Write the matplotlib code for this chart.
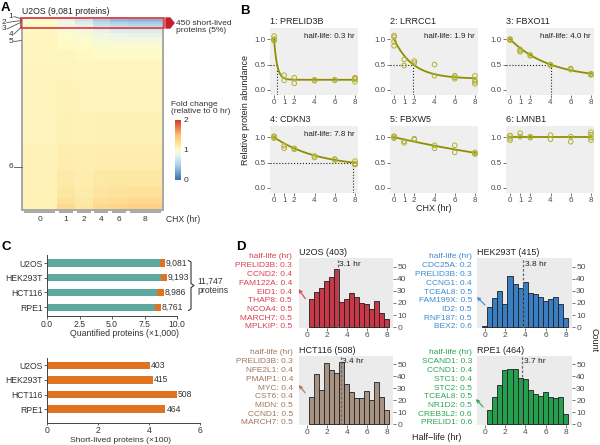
import numpy as np
import matplotlib
matplotlib.use('Agg')
import matplotlib.pyplot as plt
from matplotlib.colors import LinearSegmentedColormap
from matplotlib.patches import Polygon, Rectangle, FancyArrowPatch
from matplotlib.lines import Line2D

plt.rcParams['font.family'] = ['Liberation Sans', 'DejaVu Sans']
plt.rcParams['font.size'] = 6

# ---------------- data ----------------
# Panel A heatmap (U2OS), fold change per band of proteins x time group
hm_title = 'U2OS (9,081 proteins)'
hm_times = ['0', '1', '2', '4', '6', '8']
hm_reps = [4, 2, 2, 2, 2, 4]
hm_band_edges = [0, 60, 130, 200, 280, 360, 450, 560, 700, 900, 1150, 1500,
                 2000, 3000, 4500, 6000, 7200, 8000, 8500, 8800, 9081]
hm_band_values = [
    [1.00, 0.78, 0.60, 0.40, 0.32, 0.28],
    [1.00, 0.81, 0.66, 0.47, 0.39, 0.35],
    [1.01, 0.84, 0.71, 0.53, 0.46, 0.42],
    [1.01, 0.86, 0.75, 0.59, 0.52, 0.49],
    [1.02, 0.88, 0.79, 0.64, 0.58, 0.55],
    [1.02, 0.90, 0.82, 0.69, 0.64, 0.61],
    [1.03, 0.93, 0.86, 0.75, 0.70, 0.68],
    [1.03, 0.95, 0.90, 0.80, 0.76, 0.75],
    [1.04, 0.98, 0.94, 0.86, 0.83, 0.82],
    [1.04, 1.00, 0.97, 0.91, 0.89, 0.88],
    [1.05, 1.02, 1.00, 0.96, 0.94, 0.94],
    [1.05, 1.04, 1.03, 1.00, 0.99, 0.99],
    [1.06, 1.06, 1.05, 1.04, 1.04, 1.04],
    [1.07, 1.08, 1.07, 1.07, 1.07, 1.07],
    [1.07, 1.10, 1.09, 1.10, 1.10, 1.10],
    [1.08, 1.13, 1.11, 1.13, 1.14, 1.14],
    [1.08, 1.16, 1.13, 1.17, 1.18, 1.18],
    [1.09, 1.20, 1.15, 1.21, 1.23, 1.24],
    [1.09, 1.24, 1.17, 1.26, 1.28, 1.30],
    [1.10, 1.29, 1.20, 1.31, 1.34, 1.37],
]
hm_short_lived = 450
hm_row_labels = ['1', '2', '3', '4', '5', '6']

# Panel B
b_genes = ['1: PRELID3B', '2: LRRCC1', '3: FBXO11', '4: CDKN3', '5: FBXW5', '6: LMNB1']
b_x = [
    [0, 0, 0, 0, 1, 1, 2, 2, 4, 4, 6, 6, 8, 8, 8, 8],
    [0, 0, 0, 0, 1, 1, 2, 2, 4, 4, 6, 6, 6, 8, 8, 8, 8],
    [0, 0, 0, 0, 1, 1, 1, 2, 2, 4, 4, 6, 6, 8, 8, 8, 8],
    [0, 0, 0, 1, 1, 2, 2, 4, 4, 6, 6, 8, 8, 8, 8],
    [0, 0, 0, 1, 1, 2, 2, 4, 4, 6, 6, 8, 8, 8],
    [0, 0, 0, 0, 1, 1, 2, 2, 4, 4, 6, 6, 8, 8, 8, 8],
]
b_y = [
    [1.06, 0.99, 0.97, 1.00, 0.29, 0.19, 0.24, 0.13, 0.20, 0.18, 0.20, 0.19, 0.21, 0.23, 0.16, 0.24],
    [1.07, 1.04, 0.95, 0.87, 0.60, 0.48, 0.57, 0.53, 0.50, 0.28, 0.28, 0.25, 0.22, 0.28, 0.20, 0.16, 0.12],
    [1.00, 1.00, 0.99, 0.98, 0.80, 0.77, 0.75, 0.69, 0.67, 0.50, 0.48, 0.42, 0.40, 0.32, 0.31, 0.30, 0.30],
    [1.02, 0.98, 1.00, 0.83, 0.78, 0.78, 0.76, 0.63, 0.60, 0.57, 0.55, 0.53, 0.48, 0.46, 0.47],
    [1.02, 1.00, 0.98, 0.92, 0.89, 0.97, 0.95, 0.84, 0.78, 0.84, 0.70, 0.70, 0.68, 0.67],
    [1.03, 1.03, 0.98, 0.94, 1.08, 1.01, 1.01, 0.99, 1.04, 0.96, 1.01, 0.91, 1.10, 1.05, 0.99, 0.94],
]
b_fit_start = [1.0, 1.0, 1.0, 1.0, 1.0, 1.01]
b_fit_plateau = [0.20, 0.22, 0.22, 0.40, 0.0, 1.01]
b_fit_halflife = [0.3, 1.9, 4.0, 7.8, 15.0, None]
b_show_halflife = [True, True, True, True, False, False]
b_xticks = [0, 1, 2, 4, 6, 8]

# Panel C
c_lines = ['U2OS', 'HEK293T', 'HCT116', 'RPE1']
c_quantified = [9081, 9193, 8986, 8761]
c_short = [403, 415, 508, 464]
c_union = '11,747\nproteins'

# Panel D
d_titles = ['U2OS (403)', 'HEK293T (415)', 'HCT116 (508)', 'RPE1 (464)']
d_counts = [
    [23, 29, 32, 38, 41, 48, 21, 23, 28, 25, 20, 19, 15, 22, 12, 7],
    [1, 17, 24, 30, 19, 42, 36, 32, 37, 28, 27, 25, 22, 23, 25, 19, 8],
    [23, 42, 29, 51, 45, 43, 52, 34, 27, 22, 22, 28, 20, 35, 23, 12],
    [12, 23, 33, 45, 46, 46, 39, 38, 29, 25, 24, 27, 23, 22, 23, 9],
]
d_first_bin = [0.5, 0.0, 0.5, 0.5]
d_medians = [3.1, 3.8, 3.4, 3.7]
d_lists = [
    ['PRELID3B: 0.3', 'CCND2: 0.4', 'FAM122A: 0.4', 'EID1: 0.4', 'THAP8: 0.5', 'NCOA4: 0.5', 'MARCH7: 0.5', 'MPLKIP: 0.5'],
    ['CDC25A: 0.2', 'PRELID3B: 0.3', 'CCNG1: 0.4', 'TCEAL8: 0.5', 'FAM199X: 0.5', 'ID2: 0.5', 'RNF187: 0.5', 'BEX2: 0.6'],
    ['PRELID3B: 0.3', 'NFE2L1: 0.4', 'PMAIP1: 0.4', 'MYC: 0.4', 'CST6: 0.4', 'MIDN: 0.5', 'CCND1: 0.5', 'MARCH7: 0.5'],
    ['SCAND1: 0.3', 'CCND1: 0.4', 'STC1: 0.4', 'STC2: 0.5', 'TCEAL8: 0.5', 'NR1D2: 0.5', 'CREB3L2: 0.6', 'PRELID1: 0.6'],
]
d_bar_colors = ['#c73849', '#3a7fc3', '#a89383', '#24a04f']
d_text_colors = ['#d9404f', '#3d8ad0', '#a0765a', '#2aa653']

# ---------------- figure helpers ----------------
W, H = 600, 445
fig = plt.figure(figsize=(6, 4.45), dpi=100)


def axpx(l, t, r, b):
    return fig.add_axes([l / W, 1 - b / H, (r - l) / W, (b - t) / H])


def ftext(x, y, s, **kw):
    fig.text(x / W, 1 - y / H, s, **kw)


def fline(xs, ys, **kw):
    fig.add_artist(Line2D([x / W for x in xs], [1 - y / H for y in ys],
                          transform=fig.transFigure, **kw))


def farrow(x0, y0, x1, y1, color):
    fig.add_artist(FancyArrowPatch((x0 / W, 1 - y0 / H), (x1 / W, 1 - y1 / H),
                                   transform=fig.transFigure, arrowstyle='->',
                                   mutation_scale=5, color=color, lw=0.8))


panel_kw = dict(fontsize=9.5, fontweight='bold', va='center', ha='left')
ftext(1, 8, 'A', **panel_kw)
ftext(240, 11, 'B', **panel_kw)
ftext(1, 247, 'C', **panel_kw)
ftext(236, 247, 'D', **panel_kw)

# ---------------- Panel A ----------------
cmap = LinearSegmentedColormap.from_list(
    'fc', [(0.0, '#3d6cb2'), (0.25, '#a9d2e8'), (0.42, '#eef6ea'),
           (0.5, '#fffbc8'), (0.6, '#fde6a0'), (0.75, '#fdbf6e'),
           (1.0, '#d8352a')])
axA = axpx(22, 18, 163, 210)
C = np.repeat(np.array(hm_band_values), hm_reps, axis=1)
xe = np.arange(C.shape[1] + 1)
mesh = axA.pcolormesh(xe, hm_band_edges, C, cmap=cmap, vmin=0, vmax=2,
                      shading='flat', antialiased=False, edgecolors='face',
                      linewidth=0)
axA.set_xlim(0, C.shape[1])
axA.set_ylim(hm_band_edges[-1], 0)
axA.set_xticks([])
axA.set_yticks([])
for s in axA.spines.values():
    s.set_color('#a8a8a8')
    s.set_linewidth(1.4)
axA.add_patch(Rectangle((-0.1, 0), C.shape[1] + 0.2, hm_short_lived, fill=False,
                        edgecolor='#e3434f', lw=1.3, clip_on=False, zorder=5))
ftext(22, 12, hm_title, fontsize=6.3, va='center', color='#222')

# time group underline + labels
starts = np.concatenate([[0], np.cumsum(hm_reps)[:-1]])
tr = axA.get_xaxis_transform()
for st, n, lab in zip(starts, hm_reps, hm_times):
    axA.plot([st + 0.2, st + n - 0.2], [-0.012, -0.012], transform=tr,
             color='#a8a8a8', lw=1.4, clip_on=False, solid_capstyle='butt')
    axA.text(st + n / 2, -0.05, lab, transform=tr, ha='center', va='center',
             fontsize=6, color='#333')
ftext(166, 220, 'CHX (hr)', fontsize=6.2, va='center', color='#333')

# row labels with leader lines
row_lab_pos = [(11, 16.5, 21.5, 19), (4, 22.5, 21.5, 20.5), (4, 29, 21.5, 22),
               (11, 34, 21.5, 27), (11, 41.5, 21.5, 40.5), (11, 167, 21.5, 167)]
for lab, (tx, ty, lx, ly) in zip(hm_row_labels, row_lab_pos):
    ftext(tx, ty, lab, fontsize=6, ha='center', va='center', color='#333')
    fline([tx + 3, lx], [ty, ly], color='#555', lw=0.6)

# marker + text for short-lived
fig.add_artist(Polygon([(166 / W, 1 - 18 / H), (170 / W, 1 - 18 / H), (174 / W, 1 - 23 / H),
                        (170 / W, 1 - 28 / H), (166 / W, 1 - 28 / H)], closed=True,
                       transform=fig.transFigure, color='#c62030'))
ftext(176, 27, '450 short-lived\nproteins (5%)', fontsize=6, va='center',
      ha='left', color='#333', linespacing=1.05)

# colorbar
cax = axpx(175, 120, 181, 180)
cb = fig.colorbar(mesh, cax=cax, ticks=[0, 1, 2])
cb.outline.set_visible(False)
cb.ax.tick_params(length=0, labelsize=6, pad=2, labelcolor='#333')
ftext(171, 108, 'Fold change\n(relative to 0 hr)', fontsize=6, va='center',
      ha='left', color='#333', linespacing=1.05)

# ---------------- Panel B ----------------
b_cols = [270, 390, 506]
b_rows = [(28, 95), (126, 193)]
tt = np.linspace(0, 8, 200)
for i in range(6):
    r, c = divmod(i, 3)
    ax = axpx(b_cols[c], b_rows[r][0], b_cols[c] + 88, b_rows[r][1])
    ax.set_facecolor('#efefef')
    for s in ax.spines.values():
        s.set_visible(False)
    ax.set_xlim(-0.4, 8.3)
    ax.set_ylim(-0.1, 1.22)
    ax.set_xticks(b_xticks)
    ax.set_yticks([0, 0.5, 1.0])
    ax.set_yticklabels(['0.0', '0.5', '1.0'])
    ax.tick_params(length=2, width=0.5, color='#444', labelsize=5.8,
                   labelcolor='#4d4d4d', pad=1)
    a0, p, th = b_fit_start[i], b_fit_plateau[i], b_fit_halflife[i]
    if th is None:
        yy = np.full_like(tt, a0)
    else:
        k = np.log((a0 - p) / (0.5 - p)) / th
        yy = p + (a0 - p) * np.exp(-k * tt)
    if b_show_halflife[i]:
        ax.plot([-0.4, th], [0.5, 0.5], ls=':', color='#222', lw=0.8, zorder=1)
        ax.plot([th, th], [-0.1, 0.5], ls=':', color='#222', lw=0.8, zorder=1)
        ax.text(0.96, 0.93, f'half-life: {th} hr', transform=ax.transAxes,
                ha='right', va='top', fontsize=5.8, color='#222')
    ax.plot(tt, yy, color='#8e8e00', lw=1.3, zorder=2)
    ax.scatter(b_x[i], b_y[i], s=11, facecolors='none', edgecolors='#b0b035',
               linewidths=0.7, zorder=3)
    ax.text(0.0, 1.03, b_genes[i], transform=ax.transAxes, ha='left',
            va='bottom', fontsize=6.5, color='#222')
ftext(246, 110, 'Relative protein abundance', rotation=90, fontsize=6.5,
      ha='center', va='center', color='#222')
ftext(434, 208, 'CHX (hr)', fontsize=6.5, ha='center', va='center', color='#222')

# ---------------- Panel C ----------------
teal, orange = '#5ea8a0', '#e0731f'
axC1 = axpx(47, 255, 177, 316)
yy = np.arange(len(c_lines))
q = np.array(c_quantified) / 1000
s_ = np.array(c_short) / 1000
axC1.barh(yy, q - s_, height=0.5, color=teal)
axC1.barh(yy, s_, left=q - s_, height=0.5, color=orange)
for yi, qi, qv in zip(yy, q, c_quantified):
    axC1.text(qi + 0.05, yi, f'{qv:,}', va='center', ha='left', fontsize=6.2,
              color='#333', clip_on=False)
axC1.set_ylim(3.6, -0.55)
axC1.set_xlim(0, 10)
axC1.set_xticks([0, 2.5, 5, 7.5, 10])
axC1.set_xticklabels(['0.0', '2.5', '5.0', '7.5', '10.0'])
axC1.set_yticks(yy)
axC1.set_yticklabels(c_lines)
ftext(124, 333, 'Quantified proteins (×1,000)', fontsize=6.3, ha='center',
      va='center', color='#333')

axC2 = axpx(47, 358, 200, 423)
axC2.barh(yy, np.array(c_short) / 100, height=0.5, color=orange)
for yi, sv in zip(yy, c_short):
    axC2.text(sv / 100 + 0.04, yi, f'{sv}', va='center', ha='left', fontsize=6.2,
              color='#333')
axC2.set_ylim(3.95, -0.5)
axC2.set_xlim(0, 6)
axC2.set_xticks([0, 2, 4, 6])
axC2.set_yticks(yy)
axC2.set_yticklabels(c_lines)
ftext(121, 440.5, 'Short-lived proteins (×100)', fontsize=6.1, ha='center',
      va='center', color='#333')
for ax in (axC1, axC2):
    for sp in ('top', 'right'):
        ax.spines[sp].set_visible(False)
    for sp in ('left', 'bottom'):
        ax.spines[sp].set_color('#444')
        ax.spines[sp].set_linewidth(0.7)
    ax.tick_params(length=2, width=0.6, color='#444', labelsize=6.2,
                   labelcolor='#333', pad=1)
axC2.tick_params(axis='x', length=1.5, pad=0.5)
# bracket
fline([188.5, 191, 191, 194, 191, 191, 188.5],
      [260.5, 262, 283.5, 285.5, 287.5, 309, 310.5], color='#333', lw=0.8)
ftext(197, 286, c_union, fontsize=6.2, va='center', ha='left', color='#333',
      linespacing=1.05)

# ---------------- Panel D ----------------
d_boxes = [(299, 258, 393, 328), (477, 258, 572, 328),
           (299, 356, 393, 425), (477, 356, 572, 425)]
d_text_right = [292, 472, 293, 472]
d_text_top = [257, 257, 353, 353]
d_arrows = [(307, 301, 297, 287), (487, 307, 475, 295),
            (307, 395, 297, 383), (485, 409, 474, 397)]
for i in range(4):
    l, t, r, b = d_boxes[i]
    ax = axpx(l, t, r, b)
    ax.set_facecolor('#ebebeb')
    for s in ax.spines.values():
        s.set_visible(False)
    n = len(d_counts[i])
    centers = d_first_bin[i] + 0.5 * np.arange(n)
    ax.bar(centers, d_counts[i], width=0.5, color=d_bar_colors[i],
           edgecolor='#1e1e1e', linewidth=0.6, zorder=2)
    ax.axvline(d_medians[i], color='#666', ls=(0, (2, 1.5)), lw=0.9, zorder=3)
    ax.text(d_medians[i] + 0.15, 52, f'{d_medians[i]} hr', fontsize=6,
            va='center', ha='left', color='#222', zorder=4)
    ax.set_xlim(-0.75, 8.6)
    ax.set_ylim(-0.6, 57)
    ax.set_xticks([0, 2, 4, 6, 8])
    ax.set_yticks([0, 10, 20, 30, 40, 50])
    ax.yaxis.tick_right()
    ax.tick_params(length=2, width=0.5, color='#444', labelsize=6,
                   labelcolor='#4d4d4d', pad=1)
    ax.text(0.0, 1.02, d_titles[i], transform=ax.transAxes, ha='left',
            va='bottom', fontsize=6.5, color='#222')
    step = 8.75
    ftext(d_text_right[i], d_text_top[i], 'half-life (hr)', fontsize=6,
          ha='right', va='center', color=d_text_colors[i])
    for j, s in enumerate(d_lists[i]):
        ftext(d_text_right[i], d_text_top[i] + step * (j + 1), s, fontsize=6,
              ha='right', va='center', color=d_text_colors[i])
    x0, y0, x1, y1 = d_arrows[i]
    farrow(x0, y0, x1, y1, d_text_colors[i])
ftext(594, 340, 'Count', rotation=-90, fontsize=6.5, ha='center', va='center',
      color='#222')
ftext(437, 438, 'Half\u2212life (hr)', fontsize=6.5, ha='center', va='center',
      color='#222')

fig.savefig('out.png', dpi=100)
